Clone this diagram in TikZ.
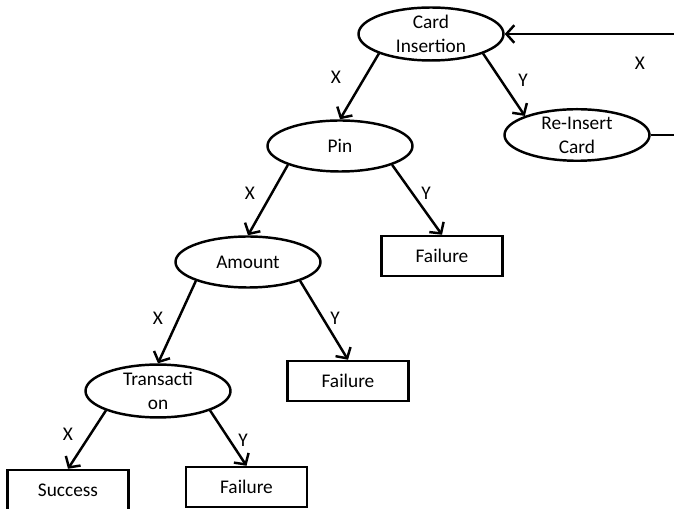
\documentclass[tikz,border=0pt]{standalone}
\usepackage{fontspec}
\setmainfont{Carlito}
\usetikzlibrary{shapes.geometric,arrows.meta,positioning}

\begin{document}
\begin{tikzpicture}[
    font=\fontsize{11}{13.6}\selectfont,
    dec/.style={draw=black, ellipse, line width=1.4pt, minimum width=2.9cm, minimum height=1.02cm, inner sep=0pt, align=center},
    res/.style={draw=black, rectangle, line width=1.4pt, minimum width=2.42cm, minimum height=0.8cm, inner sep=0pt},
    arr/.style={-{Straight Barb[length=4.5pt,width=10pt]}, line width=1.4pt},
    lnk/.style={line width=1.4pt},
    lbl/.style={font=\fontsize{11}{13}\selectfont},
]
\useasboundingbox (0,0) rectangle (13.48,10.16);
\clip (0,0) rectangle (13.48,10.16);

% Decision nodes
\node[dec] (card) at (8.62,9.48) {Card\\Insertion};
\node[dec] (reinsert) at (11.54,7.46) {Re-Insert\\Card};
\node[dec] (pin) at (6.80,7.24) {Pin};
\node[dec] (amount) at (4.96,4.92) {Amount};
\node[dec, minimum height=0.86cm] (trans) at (3.16,2.34) {Transacti\\on};

% Results
\node[res] (fail1) at (8.84,5.04) {Failure};
\node[res] (fail2) at (6.96,2.54) {Failure};
\node[res] (fail3) at (4.93,0.42) {Failure};
\node[res] (success) at (1.36,0.36) {Success};

% Loop back to card insertion
\coordinate (loopout) at (13.6,7.46);
\coordinate (loopin) at (13.6,9.48);

% Branch labels
\node[lbl] (x1) at (6.72,8.62) {X};
\node[lbl] (y1) at (10.46,8.56) {Y};
\node[lbl] (x0) at (12.80,8.90) {X};
\node[lbl] (x2) at (5.00,6.30) {X};
\node[lbl] (y2) at (8.52,6.30) {Y};
\node[lbl] (x3) at (3.16,3.80) {X};
\node[lbl] (y3) at (6.70,3.80) {Y};
\node[lbl] (x4) at (1.36,1.48) {X};
\node[lbl] (y4) at (4.86,1.36) {Y};

% Arrows
\draw[arr] (card.south west) -- (pin.north);
\draw[arr] (card.south east) -- (reinsert.north west);
\draw[arr] (pin.south west) -- (amount.north);
\draw[arr] (pin.south east) -- (fail1.north);
\draw[arr] (amount.south west) -- (trans.north);
\draw[arr] (amount.south east) -- (fail2.north);
\draw[arr] (trans.south west) -- (success.north);
\draw[arr] (trans.south east) -- (fail3.north);
\draw[lnk] (reinsert.east) -- (loopout);
\draw[arr] (loopin) -- (card.east);

\end{tikzpicture}
\end{document}
